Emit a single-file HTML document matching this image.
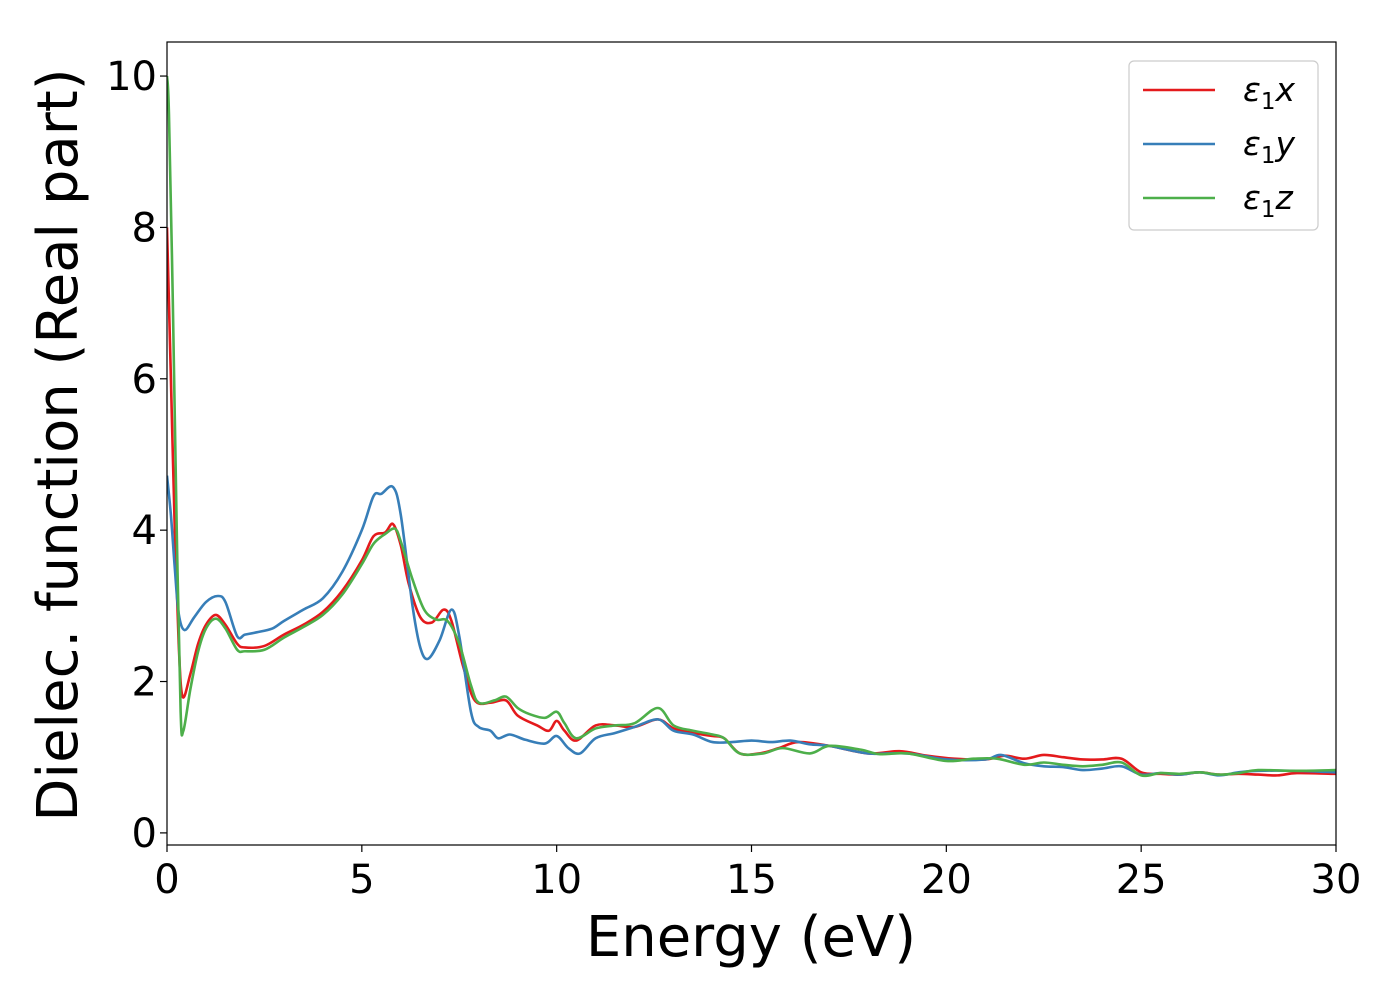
<!DOCTYPE html>
<html><head><meta charset="utf-8"><style>
body{margin:0;background:#fff}
svg{display:block;font-family:"DejaVu Sans","Liberation Sans",sans-serif}
</style></head><body>
<svg id="chart" width="1400" height="1000" viewBox="0 0 1400 1000" xmlns="http://www.w3.org/2000/svg">
<rect width="1400" height="1000" fill="#fff"/>
<g id="plot"></g>
<g id="axes"></g>
</svg>
<script>
const xTicks=[0,5,10,15,20,25,30];
const yTicks=[0,2,4,6,8,10];
const seriesNames=["x","y","z"];
const seriesColors=["#e41a1c","#377eb8","#4daf4a"];
const xX=[0,0.1,0.2,0.3,0.4,0.6,0.8,1.0,1.25,1.5,1.8,2.0,2.5,3.0,3.5,4.0,4.5,5.0,5.3,5.6,5.8,6.0,6.2,6.5,6.8,7.1,7.3,7.6,7.9,8.3,8.7,9.0,9.5,9.8,10.0,10.2,10.5,11.0,11.5,12.0,12.6,13.0,13.5,14.0,14.3,14.7,15.2,15.7,16.2,17,18,18.8,19.5,20.2,21,21.5,22,22.5,23,23.5,24,24.5,25,25.5,26,26.5,27,27.5,28,28.5,29,30];
const xY=[8.0,6,4,2.5,1.8,2.1,2.5,2.75,2.88,2.75,2.5,2.45,2.47,2.62,2.75,2.92,3.2,3.6,3.92,3.97,4.08,3.8,3.3,2.85,2.78,2.95,2.8,2.2,1.75,1.72,1.75,1.55,1.42,1.35,1.48,1.35,1.22,1.42,1.42,1.4,1.5,1.38,1.32,1.28,1.25,1.05,1.05,1.12,1.2,1.15,1.05,1.08,1.02,0.98,0.97,1.02,0.98,1.03,1.0,0.97,0.97,0.98,0.8,0.78,0.77,0.8,0.77,0.78,0.77,0.76,0.79,0.78];
const yX=[0,0.1,0.2,0.3,0.45,0.7,1.0,1.3,1.5,1.8,2.0,2.3,2.7,3.0,3.5,4.0,4.5,5.0,5.3,5.5,5.8,6.0,6.3,6.5,6.7,7.0,7.3,7.5,7.8,8.0,8.3,8.5,8.8,9.2,9.7,10.0,10.3,10.6,11.0,11.5,12.0,12.6,13.0,13.5,14.0,14.5,15.0,15.5,16,16.5,17,18,19,20,21,21.4,22,22.5,23,23.5,24,24.5,25,25.5,26,26.5,27,27.5,28,29,30];
const yY=[4.72,4.2,3.5,2.9,2.68,2.85,3.05,3.13,3.05,2.6,2.62,2.65,2.7,2.8,2.95,3.1,3.45,4.0,4.45,4.48,4.57,4.2,3.0,2.45,2.3,2.55,2.95,2.6,1.6,1.4,1.35,1.25,1.3,1.23,1.18,1.28,1.12,1.05,1.25,1.32,1.4,1.5,1.35,1.3,1.2,1.2,1.22,1.2,1.22,1.17,1.15,1.05,1.05,0.97,0.97,1.03,0.92,0.88,0.87,0.83,0.85,0.88,0.77,0.79,0.77,0.8,0.76,0.8,0.82,0.82,0.8];
const zX=[0,0.05,0.15,0.25,0.35,0.42,0.6,0.8,1.0,1.25,1.5,1.8,2.0,2.5,3.0,3.5,4.0,4.5,5.0,5.3,5.6,5.85,6.0,6.3,6.6,6.9,7.2,7.5,7.8,8.0,8.4,8.7,9.0,9.3,9.7,10.0,10.2,10.5,11.0,11.5,12.0,12.6,13.0,13.5,14.0,14.3,14.7,15.3,15.8,16.5,17,17.8,18.3,19,20,20.7,21.3,22,22.5,23,23.5,24,24.5,25,25.5,26,26.5,27,27.5,28,29,30];
const zY=[10,9.5,7,4,1.6,1.35,1.9,2.4,2.7,2.83,2.7,2.42,2.4,2.42,2.58,2.72,2.88,3.15,3.55,3.82,3.95,4.02,3.85,3.35,2.95,2.82,2.8,2.5,1.95,1.72,1.75,1.8,1.65,1.57,1.52,1.6,1.45,1.25,1.38,1.42,1.45,1.65,1.42,1.35,1.3,1.25,1.05,1.05,1.12,1.05,1.15,1.1,1.04,1.05,0.95,0.98,0.98,0.9,0.93,0.9,0.88,0.9,0.93,0.76,0.79,0.78,0.8,0.77,0.79,0.83,0.82,0.83];

const L=167,R=1336,T=42,B=845;
const X0=0,X1=30,Y0=-0.16,Y1=10.45;
const sx=v=>L+(v-X0)/(X1-X0)*(R-L);
const sy=v=>B-(v-Y0)/(Y1-Y0)*(B-T);
const NS="http://www.w3.org/2000/svg";
function mk(tag,attrs,parent){const e=document.createElementNS(NS,tag);for(const k in attrs)e.setAttribute(k,attrs[k]);parent.appendChild(e);return e;}
function pathFor(xs,ys){
  const p=xs.map((x,i)=>[sx(x),sy(ys[i])]);
  let d="M"+p[0][0].toFixed(2)+","+p[0][1].toFixed(2);
  for(let i=0;i<p.length-1;i++){
    const p0=p[i-1]||p[i],p1=p[i],p2=p[i+1],p3=p[i+2]||p2;
    const c1=[p1[0]+(p2[0]-p0[0])/6,p1[1]+(p2[1]-p0[1])/6];
    const c2=[p2[0]-(p3[0]-p1[0])/6,p2[1]-(p3[1]-p1[1])/6];
    d+=" C"+c1.map(v=>v.toFixed(2))+" "+c2.map(v=>v.toFixed(2))+" "+p2[0].toFixed(2)+","+p2[1].toFixed(2);
  }
  return d;
}
const plot=document.getElementById('plot'),axes=document.getElementById('axes');
const cp=mk('clipPath',{id:'clip'},plot);mk('rect',{x:L,y:T,width:R-L,height:B-T},cp);
const data=[[xX,xY],[yX,yY],[zX,zY]];
data.forEach((s,i)=>{
  const el=mk('path',{d:pathFor(s[0],s[1]),fill:'none',stroke:seriesColors[i],'stroke-width':2.6,'clip-path':'url(#clip)'},plot);
  
  
});
const frame=mk('rect',{x:L,y:T,width:R-L,height:B-T,fill:'none',stroke:'#000','stroke-width':1.2},axes);


xTicks.forEach(t=>{
  const x=sx(t);
  mk('line',{x1:x,x2:x,y1:B,y2:B+7,stroke:'#000','stroke-width':1.2},axes);
  const tx=mk('text',{x:x,y:B+48,'font-size':40,'text-anchor':'middle'},axes);tx.textContent=t;
  
  
});
yTicks.forEach(t=>{
  const y=sy(t);
  mk('line',{x1:L,x2:L-7,y1:y,y2:y,stroke:'#000','stroke-width':1.2},axes);
  const tx=mk('text',{x:L-10,y:y+14,'font-size':40,'text-anchor':'end'},axes);tx.textContent=t;
  
  
});
const xl=mk('text',{x:751,y:956,'font-size':56,'text-anchor':'middle'},axes);xl.textContent='Energy (eV)';


const yl=mk('text',{x:0,y:0,'font-size':56,'text-anchor':'middle',transform:'translate(77,445) rotate(-90)'},axes);yl.textContent='Dielec. function (Real part)';


const lg=mk('g',{},axes);


mk('rect',{x:1129,y:61,width:189,height:169,rx:5,fill:'#fff','fill-opacity':0.8,stroke:'#ccc','stroke-width':1.2},lg);
seriesNames.forEach((n,i)=>{
  const y=90+i*54;
  const ln=mk('line',{x1:1143,x2:1215,y1:y,y2:y,stroke:seriesColors[i],'stroke-width':2.6},lg);
  
  
  const t=mk('text',{x:1243,y:y+11,'font-size':33,'font-style':'italic'},lg);
  
  
  t.innerHTML='ε<tspan font-style="normal" font-size="23" dy="8">1</tspan><tspan dy="-8">'+n+'</tspan>';
});
</script>
</body></html>
